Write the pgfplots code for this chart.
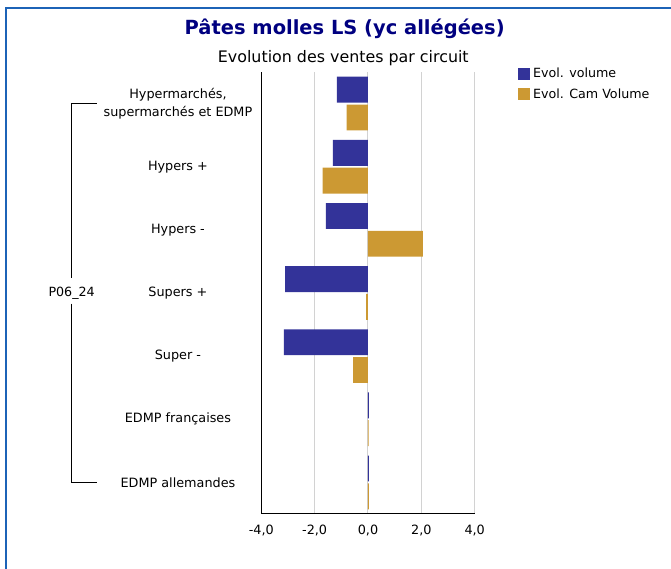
\documentclass[border=0pt]{standalone}
\usepackage{fontspec}
\setmainfont{DejaVu Sans}
\usepackage{pgfplots}
\pgfplotsset{compat=1.18}
\definecolor{volBlue}{RGB}{51,51,153}
\definecolor{camGold}{RGB}{204,153,51}
\definecolor{frameBlue}{RGB}{28,99,183}
\definecolor{titleNavy}{RGB}{0,0,128}

\begin{document}
\begin{tikzpicture}[x=0.75pt,y=-0.75pt]
\path[use as bounding box] (0,0) rectangle (671,568);
\draw[frameBlue, line width=1.5pt] (6,572) -- (6,8) -- (675,8);
\node[font=\fontsize{14.6}{17}\selectfont\bfseries, text=titleNavy, anchor=base] at (344.7,34) {Pâtes molles LS (yc allégées)};
\node[font=\fontsize{11.9}{14}\selectfont, anchor=base] at (343.3,62) {Evolution des ventes par circuit};

\begin{axis}[
  at={(195.975pt,-54pt)}, anchor=north west,
  scale only axis, width=160.05pt, height=331.5pt,
  xbar, bar width=0.41,
  xmin=-4, xmax=4, ymin=-0.5, ymax=6.5,
  xtick={-4,-2,...,4},
  ytick={0,...,6},
  yticklabels={EDMP allemandes, EDMP françaises, Super -, Supers +, Hypers -, Hypers +, {Hypermarchés,\\supermarchés et EDMP}},
  axis lines*=left,
  major tick length=0pt,
  xmajorgrids, grid style={gray!35, line width=0.75pt},
  axis line style={black, line width=0.75pt},
  tick label style={font=\fontsize{9.6}{13.5}\selectfont},
  yticklabel style={anchor=center, align=center, xshift=-62.5pt},
  xticklabel style={yshift=-5pt, /pgf/number format/.cd, fixed, fixed zerofill, precision=1, use comma, assume math mode=true},
  legend image code/.code={\fill[#1] (0pt,-4.5pt) rectangle (9pt,4.5pt);},
  legend style={at={(1.204,1.016)}, anchor=north west, draw=none, fill=none, inner sep=0pt,
    font=\fontsize{9.5}{11}\selectfont, row sep=2.9pt},
  legend cell align=left,
  clip=false,
]
\addplot[fill=volBlue, draw=none, bar shift=0.22] coordinates {(-1.17,6) (-1.32,5) (-1.58,4) (-3.11,3) (-3.15,2) (0.03,1) (0.03,0)};
\addplot[fill=camGold, draw=none, bar shift=-0.22] coordinates {(-0.80,6) (-1.70,5) (2.06,4) (-0.07,3) (-0.56,2) (0.02,1) (0.03,0)};
\legend{Evol. volume, Evol. Cam Volume}
\draw[black, line width=0.75pt] (axis cs:-10.17,6) -- (axis cs:-11.11,6) -- (axis cs:-11.11,3.23);
\draw[black, line width=0.75pt] (axis cs:-11.11,2.83) -- (axis cs:-11.11,0) -- (axis cs:-10.17,0);
\node[font=\fontsize{9.5}{11}\selectfont] at (axis cs:-11.11,3) {P06\_24};
\end{axis}
\end{tikzpicture}
\end{document}
